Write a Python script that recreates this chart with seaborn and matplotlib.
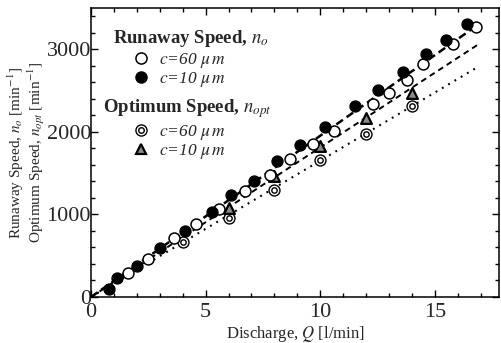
import matplotlib
matplotlib.use("Agg")
import matplotlib.pyplot as plt
from matplotlib.lines import Line2D
from matplotlib.legend_handler import HandlerTuple
from matplotlib.ticker import MultipleLocator
import seaborn as sns
import pandas as pd

# ---- data ----
run60_x = [1.6, 2.5, 3.6, 4.6, 5.6, 6.7, 7.8, 8.7, 9.7, 10.6, 12.3, 13.0, 13.8, 14.5, 15.8, 16.8]
run60_y = [290, 460, 710, 880, 1060, 1280, 1480, 1670, 1850, 2010, 2340, 2470, 2630, 2820, 3070, 3270]

run10_x = [0.8, 1.15, 2.0, 3.0, 4.1, 5.3, 6.1, 7.1, 8.1, 9.1, 10.2, 11.5, 12.5, 13.6, 14.6, 15.5, 16.4]
run10_y = [100, 225, 370, 590, 800, 1030, 1230, 1410, 1650, 1840, 2060, 2310, 2510, 2730, 2940, 3110, 3310]

opt60_x = [4.0, 6.0, 8.0, 10.0, 12.0, 14.0]
opt60_y = [665, 960, 1290, 1655, 1970, 2310]

opt10_x = [6.0, 8.0, 10.0, 12.0, 14.0]
opt10_y = [1075, 1460, 1830, 2170, 2470]

fit_x = [0.0, 16.9]
fit_run_y = [0, 3300]
fit_opt10_y = [0, 3060]
fit_opt60_y = [0, 2790]

x_ticks = [0, 5, 10, 15]
y_ticks = [0, 1000, 2000, 3000]

# ---- style ----
sns.set_theme(style="ticks")
plt.rcParams["font.family"] = ["Liberation Serif", "DejaVu Serif"]
plt.rcParams["mathtext.fontset"] = "stix"

fig = plt.figure(figsize=(5.01, 3.43), dpi=100)
ax = fig.add_axes([91 / 501, 1 - 297 / 343, 408 / 501, 289 / 343])

fit_df = pd.DataFrame({"x": fit_x, "run": fit_run_y, "o10": fit_opt10_y, "o60": fit_opt60_y})
sns.lineplot(data=fit_df, x="x", y="run", ax=ax, color="black", lw=1.8,
             linestyle=(0, (3.2, 1.8)), zorder=2)
sns.lineplot(data=fit_df, x="x", y="o10", ax=ax, color="black", lw=1.4,
             linestyle=(0, (3.0, 2.2)), zorder=2)
sns.lineplot(data=fit_df, x="x", y="o60", ax=ax, color="black", lw=1.5,
             linestyle=(0, (0.9, 2.6)), zorder=2)

ms = 62
sns.scatterplot(x=opt60_x, y=opt60_y, ax=ax, marker="o", s=ms, facecolor="white",
                edgecolor="black", linewidth=1.0, zorder=3)
sns.scatterplot(x=opt60_x, y=opt60_y, ax=ax, marker="o", s=15, facecolor="white",
                edgecolor="black", linewidth=1.0, zorder=3.1)
sns.scatterplot(x=opt10_x, y=opt10_y, ax=ax, marker="^", s=60, facecolor="#8a8a8a",
                edgecolor="black", linewidth=1.6, zorder=3)
sns.scatterplot(x=run60_x, y=run60_y, ax=ax, marker="o", s=ms, facecolor="white",
                edgecolor="black", linewidth=1.1, zorder=4)
sns.scatterplot(x=run10_x, y=run10_y, ax=ax, marker="o", s=ms, facecolor="black",
                edgecolor="black", linewidth=1.0, zorder=5)

ax.set_xlim(0, 17.8)
ax.set_ylim(0, 3500)
ax.set_xticks(x_ticks)
ax.set_yticks(y_ticks)
ax.set_xticklabels([str(v) for v in x_ticks])
ax.set_yticklabels([str(v) for v in y_ticks])
ax.xaxis.set_minor_locator(MultipleLocator(1))
ax.yaxis.set_minor_locator(MultipleLocator(200))
ax.tick_params(which="both", direction="in", top=True, right=True, color="black",
               width=1.0)
ax.tick_params(which="major", length=5, labelsize=16)
ax.tick_params(axis="y", which="major", pad=0)
ax.tick_params(axis="x", which="major", pad=4)
ax.tick_params(which="minor", length=3)
for sp in ax.spines.values():
    sp.set_color("black")
    sp.set_linewidth(1.1)

ax.set_xlabel("Discharge, $Q$ [l/min]", fontsize=12)
ax.xaxis.set_label_coords(0.5, (297 - 324) / 289)
ax.set_ylabel("Runaway Speed, $n_o$ [min$^{-1}$]\nOptimum Speed, $n_{opt}$ [min$^{-1}$]",
              fontsize=11, linespacing=0.95)
ax.yaxis.set_label_coords((47 - 91) / 408, 0.5)

# ---- legends ----
ax.text((113 - 91) / 408, 1 - 20 / 289, r"Runaway Speed, $\boldsymbol{n_o}$",
        transform=ax.transAxes, fontsize=13.5, fontweight="bold", va="top", ha="left")
ax.text((103 - 91) / 408, 1 - 89 / 289, r"Optimum Speed, $\boldsymbol{n_{opt}}$",
        transform=ax.transAxes, fontsize=13.5, fontweight="bold", va="top", ha="left")

h_open = Line2D([], [], ls="none", marker="o", ms=8, mfc="white", mec="black", mew=1.1)
h_fill = Line2D([], [], ls="none", marker="o", ms=8, mfc="black", mec="black")
h_dbl_o = Line2D([], [], ls="none", marker="o", ms=8, mfc="white", mec="black", mew=1.0)
h_dbl_i = Line2D([], [], ls="none", marker="o", ms=4, mfc="white", mec="black", mew=1.0)
h_tri = Line2D([], [], ls="none", marker="^", ms=7.5, mfc="#8a8a8a", mec="black", mew=1.6)

lab60 = r"$c$=60 $\mu\,m$"
lab10 = r"$c$=10 $\mu\,m$"
leg_kw = dict(loc="upper left", frameon=False, fontsize=12.5, handlelength=0.9,
              handletextpad=0.6, borderpad=0, borderaxespad=0, labelspacing=0.0)
leg1 = ax.legend([h_open, h_fill], [lab60, lab10],
                 bbox_to_anchor=((133 - 91) / 408, 1 - 43 / 289), **leg_kw)
ax.add_artist(leg1)
leg2 = ax.legend([(h_dbl_o, h_dbl_i), h_tri], [lab60, lab10],
                 bbox_to_anchor=((133 - 91) / 408, 1 - 115 / 289),
                 handler_map={tuple: HandlerTuple(ndivide=1, pad=0)}, **leg_kw)
for t in list(leg1.get_texts()) + list(leg2.get_texts()):
    t.set_fontstyle("italic")

fig.savefig("out.png", dpi=100)
